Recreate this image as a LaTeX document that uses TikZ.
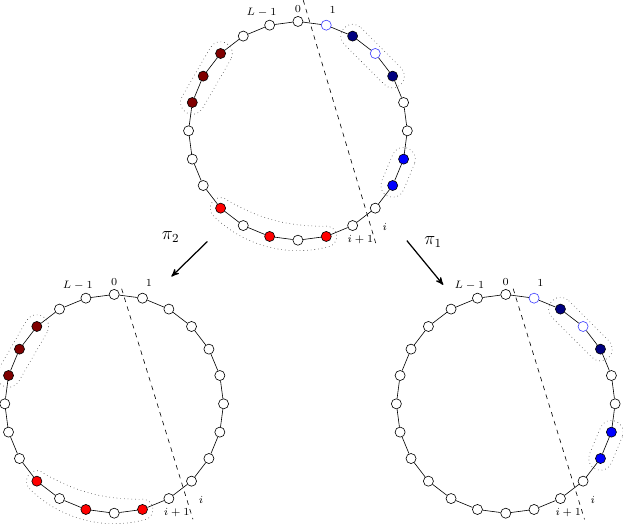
\documentclass[tikz,border=0pt]{standalone}
\usepackage{amsmath}
\usepackage{tikz}
\usetikzlibrary{arrows,calc}
\tikzset{
  vtx/.style = {circle, draw=black, fill=white, inner sep=0pt,
    minimum size=0.23cm, thin},% sommet blanc
  vtx_w/.style = {vtx},
  vtx_h/.style = {vtx, draw=blue!75},% sommet creux bleu
  vtx_dr/.style = {vtx, fill=red!50!black},
  vtx_r/.style = {vtx, fill=red},
  vtx_db/.style = {vtx, fill=blue!50!black},
  vtx_b/.style = {vtx, fill=blue},
  grp/.style = {black!75, dotted, thin},% groupe
  cut/.style = {dashed, thin},
  lbl/.style = {font=\scriptsize},
  }
% band around two nodes of a ring
\newcommand{\grpband}[2]{%
  \draw[grp] let \p1=($(#2)-(#1)$), \n1={atan2(\y1,\x1)} in
    ($(#1)+(\n1+90:0.27)$) -- ($(#2)+(\n1+90:0.27)$)
    arc[start angle=\n1+90, end angle=\n1-90, radius=0.27]
    -- ($(#1)+(\n1-90:0.27)$)
    arc[start angle=\n1-90, end angle=\n1-270, radius=0.27] -- cycle;}

\begin{document}
\begin{tikzpicture}[>=stealth', thin]
  \useasboundingbox (-6.81,2.99) rectangle (7.43,-8.98);
  %   top ring
  \begin{scope}
  \foreach \k/\s in {0/w,1/h,2/db,3/h,4/db,5/w,6/w,7/b,8/b,9/w,10/w,11/r,
      12/w,13/r,14/w,15/r,16/w,17/w,18/w,19/dr,20/dr,21/dr,22/w,23/w}
    \node[vtx_\s] (t\k) at ({90-15*\k}:2.5) {};
  \foreach \k in {0,...,23} {
    \pgfmathtruncatemacro{\nx}{mod(\k+1,24)}
    \draw (t\k) -- (t\nx);
  }
  \node[lbl] (tl0) at (90:2.78) {$0$};
  \node[lbl] (tl1) at (74:2.88) {$1$};
  \node[lbl] (tlL) at (107:2.84) {$L-1$};
  \node[lbl] (tli) at (-48:2.97) {$i$};
  \node[lbl] (tlj) at (-60:2.86) {$i+1$};
  \coordinate (tc1) at (0.12,2.99);
  \coordinate (tc2) at (1.8,-2.64);
  \draw[cut] (tc1) -- (tc2);
  \grpband{t21}{t19}
  \grpband{t2}{t4}
  \grpband{t7}{t8}
  \draw[grp] (-135:2.74) arc[start angle=-135, end angle=-75, radius=2.74]
    arc[start angle=-75, end angle=105, radius=0.24]
    to[bend left=14] (-135:2.26)
    arc[start angle=45, end angle=225, radius=0.24] -- cycle;
  \end{scope}
  %   left ring (pi_2)
  \begin{scope}[shift={(-4.2,-6.24)}]
  \foreach \k/\s in {0/w,1/w,2/w,3/w,4/w,5/w,6/w,7/w,8/w,9/w,10/w,11/r,
      12/w,13/r,14/w,15/r,16/w,17/w,18/w,19/dr,20/dr,21/dr,22/w,23/w}
    \node[vtx_\s] (l\k) at ({90-15*\k}:2.5) {};
  \foreach \k in {0,...,23} {
    \pgfmathtruncatemacro{\nx}{mod(\k+1,24)}
    \draw (l\k) -- (l\nx);
  }
  \node[lbl] (ll0) at (90:2.78) {$0$};
  \node[lbl] (ll1) at (74:2.88) {$1$};
  \node[lbl] (llL) at (107:2.84) {$L-1$};
  \node[lbl] (lli) at (-48:2.97) {$i$};
  \node[lbl] (llj) at (-60:2.86) {$i+1$};
  \coordinate (lc1) at (0.17,2.63);
  \coordinate (lc2) at (1.8,-2.64);
  \draw[cut] (lc1) -- (lc2);
  \grpband{l21}{l19}
  \draw[grp] (-135:2.74) arc[start angle=-135, end angle=-75, radius=2.74]
    arc[start angle=-75, end angle=105, radius=0.24]
    to[bend left=14] (-135:2.26)
    arc[start angle=45, end angle=225, radius=0.24] -- cycle;
  \end{scope}
  %   right ring (pi_1)
  \begin{scope}[shift={(4.75,-6.24)}]
  \foreach \k/\s in {0/w,1/h,2/db,3/h,4/db,5/w,6/w,7/b,8/b,9/w,10/w,11/w,
      12/w,13/w,14/w,15/w,16/w,17/w,18/w,19/w,20/w,21/w,22/w,23/w}
    \node[vtx_\s] (r\k) at ({90-15*\k}:2.5) {};
  \foreach \k in {0,...,23} {
    \pgfmathtruncatemacro{\nx}{mod(\k+1,24)}
    \draw (r\k) -- (r\nx);
  }
  \node[lbl] (rl0) at (90:2.78) {$0$};
  \node[lbl] (rl1) at (74:2.88) {$1$};
  \node[lbl] (rlL) at (107:2.84) {$L-1$};
  \node[lbl] (rli) at (-48:2.97) {$i$};
  \node[lbl] (rlj) at (-60:2.86) {$i+1$};
  \coordinate (rc1) at (0.17,2.63);
  \coordinate (rc2) at (1.8,-2.64);
  \draw[cut] (rc1) -- (rc2);
  \grpband{r2}{r4}
  \grpband{r7}{r8}
  \end{scope}
  %   maps
  \coordinate (a2s) at (-2.07,-2.53);
  \coordinate (a2e) at (-2.89,-3.33);
  \coordinate (a1s) at (2.49,-2.51);
  \coordinate (a1e) at (3.32,-3.52);
  \draw[->, thick] (a2s) -- (a2e);
  \draw[->, thick] (a1s) -- (a1e);
  \node[font=\large] (pi2) at (-2.91,-2.43) {$\pi_2$};
  \node[font=\large] (pi1) at (3.09,-2.54) {$\pi_1$};
\end{tikzpicture}
\end{document}
